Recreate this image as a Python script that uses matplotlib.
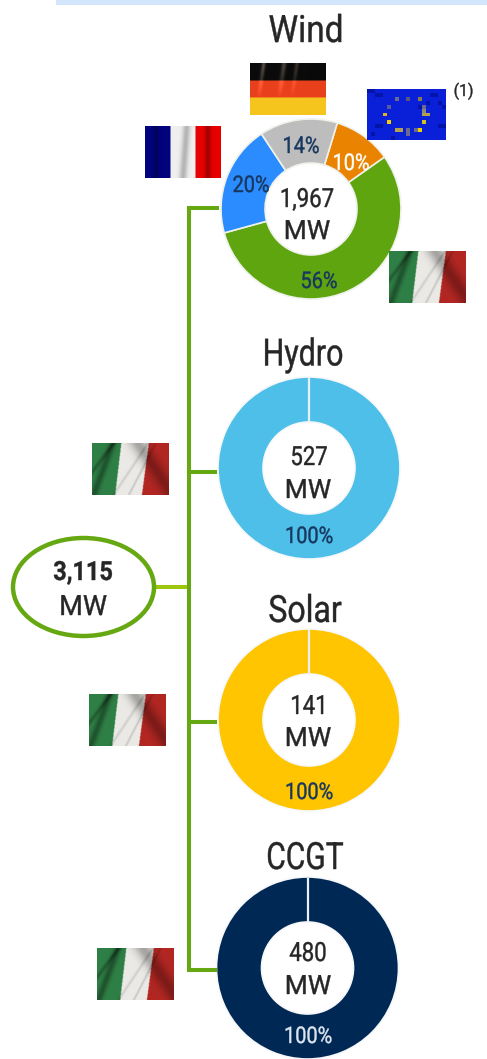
import matplotlib
matplotlib.use("Agg")
import matplotlib.pyplot as plt
from matplotlib.patches import Rectangle, Ellipse
from matplotlib.patheffects import AbstractPathEffect
from matplotlib.transforms import Affine2D
import numpy as np

plt.rcParams['font.family'] = ['Roboto', 'DejaVu Sans']

W, H = 487, 1059
wind_labels = ["10%", "56%", "20%", "14%"]
wind_values = [10.5, 55.5, 20, 14]
wind_colors = ["#E98300", "#5FA510", "#2B8CFF", "#BDBDBD"]
wind_text = ["#FFFFFF", "#17375E", "#17375E", "#17375E"]
single_values = [100]
titles = ["Wind", "Hydro", "Solar", "CCGT"]
capacity = ["1,967", "527", "141", "480"]
total = "3,115"
single_colors = ["#4DBFE9", "#FFC500", "#002855"]
single_text = ["#17375E", "#17375E", "#DDE6F0"]

fig = plt.figure(figsize=(W/100, H/100), dpi=100)
ax = fig.add_axes([0, 0, 1, 1])
DARK = "#262626"
GREEN = "#66A812"


class Condense(AbstractPathEffect):
    """Narrow the glyphs about a vertical axis (no condensed font is installed)."""
    def __init__(self, cx, k, bold=0.3):
        super().__init__()
        self.cx, self.k, self.bold = cx, k, bold

    def draw_path(self, renderer, gc, tpath, affine, rgbFace=None):
        t = affine + Affine2D().translate(-self.cx, 0).scale(self.k, 1).translate(self.cx, 0)
        g = renderer.new_gc()
        g.copy_properties(gc)
        g.set_linewidth(self.bold)
        g.set_foreground(rgbFace)
        renderer.draw_path(g, tpath, t, rgbFace)
        g.restore()


def pie(vals, cols, cx, cy, r, start, edge):
    ax.pie(vals, colors=cols, center=(cx, cy), radius=r, startangle=start, counterclock=True,
           wedgeprops=dict(width=r-46, edgecolor=edge, linewidth=1.2), frame=True)


# counterclockwise on an inverted axis reads clockwise
pie(wind_values, wind_colors, 311, 209, 90, -73, "#EEF2EA")
centers = [(309, 468), (309, 720), (307.5, 968)]
for (cx, cy), c in zip(centers, single_colors):
    pie(single_values, [c], cx, cy, 91, -90, "#F6F8FA")
    ax.plot([cx, cx], [cy-90.5, cy-46], color="#E8F0F5", lw=1.6, zorder=5, solid_capstyle="butt")

ax.add_patch(Rectangle((56, 0), W-56, 5, color="#D3E6FB", lw=0))

# connectors
ax.plot([217, 188.5, 188.5, 215], [208, 208, 970, 970], color=GREEN, lw=2.9, solid_joinstyle="miter", zorder=1)
for y in (472, 722):
    ax.plot([188.5, 217], [y, y], color=GREEN, lw=2.9, zorder=1, solid_capstyle="butt")
ax.plot([156, 187], [587, 587], color="#9CC60B", lw=2.9, zorder=1, solid_capstyle="butt")
ax.add_patch(Ellipse((83.5, 587), 141, 98, fc="white", ec=GREEN, lw=3.2, zorder=2))


def T(x, y, s, size, k, color=DARK, **kw):
    ax.text(x, y, s, fontsize=size, color=color, ha="center", va="baseline", zorder=6,
            path_effects=[Condense(x, k)], **kw)


for (x, y), s, k in zip([(306, 42), (303, 365.5), (305, 622), (305, 869)], titles, [.89, .81, .855, .8]):
    T(x, y, s, 27, k)
for (x, y), s in zip([(307, 207), (309, 465), (309, 714), (308, 961)], capacity):
    T(x, y, s, 19, .84)
for x, y in [(307, 239), (308, 498), (308, 746), (308, 994)]:
    T(x, y, "MW", 19, 1.0)
T(83, 580, total, 19, .89, fontweight="bold")
T(83, 615, "MW", 20, .98)
T(463.5, 96, "(1)", 12, .95)
for (x, y), s, c in zip([(351, 170), (319, 288), (251, 192), (301, 153)], wind_labels, wind_text):
    T(x, y, s, 16.5, .87, c)
for (x, y), c in zip([(309, 543), (309, 799), (308, 1043)], single_text):
    T(x, y, "100%", 16.5, .87, c)


# ---- flags (decoration, not data) ----
def show(img, x0, y0, w, h, interp="bilinear"):
    ax.imshow(img, extent=(x0, x0+w, y0+h, y0), interpolation=interp, zorder=3, aspect="auto")


def rgb(c):
    return np.array(matplotlib.colors.to_rgb(c))


def grid(w, h):
    return np.meshgrid(np.linspace(0, 1, w), np.linspace(0, 1, h))


def italy(x0, y0, w=77, h=52):
    X, Y = grid(w*2, h*2)
    b1 = .38 - .08*Y
    b2 = .74 - .09*Y
    img = np.where((X < b1)[..., None], rgb("#2F8046"),
                   np.where((X < b2)[..., None], rgb("#ECEAE6"), rgb("#B32723")))
    fold = 1 - .35*np.exp(-((X - .25*(1-Y) - .02)/.05)**2) - .28*np.exp(-((X + .5*Y - .28)/.03)**2)*(X < b1)
    fold -= .30*np.exp(-((X - 1.05 + .45*(1-Y))/.12)**2)
    fold -= .16*np.exp(-((X + .35*Y - .83)/.015)**2)
    fold -= .12*np.exp(-((X + .45*Y - .73)/.02)**2)
    show(np.clip(img*fold[..., None], 0, 1), x0, y0, w, h)


for x, y in [(389, 251), (92, 443), (89, 694), (97, 948)]:
    italy(x, y)

# France
X, Y = grid(152, 104)
img = np.where((X < 1/3)[..., None], rgb("#00037F"),
               np.where((X < 2/3)[..., None], rgb("#F0F0F0"), rgb("#E80000")))
sh = 1 - .25*np.exp(-((X-.14)/.04)**2) - .25*np.exp(-((X-.55+.05*Y)/.05)**2) - .3*np.exp(-((X-.83)/.04)**2)
show(np.clip(img*sh[..., None], 0, 1), 145, 126, 76, 52)

# Germany
X, Y = grid(152, 104)
img = np.where((Y < 1/3)[..., None], rgb("#0A0A0A"),
               np.where((Y < 2/3)[..., None], rgb("#E8401C"), rgb("#F6C61E")))
add = .30*np.exp(-((X-.18+.1*Y)/.025)**2) + .25*np.exp(-((X-.45+.1*Y)/.03)**2) + .18*np.exp(-((X-.62+.1*Y)/.025)**2)
add = add*np.clip(1.1 - 1.6*Y, 0, 1)
show(np.clip(img + add[..., None]*np.array([1, .9, .8]), 0, 1), 250, 63, 76, 52)

# EU, pixelated
eu = np.tile(rgb("#0A1FD8"), (13, 20, 1))
for col, row in [(0,0),(1,0),(2,1),(3,1),(15,3),(18,9),(19,9),(1,11),(6,12),(16,1),(17,1),(13,4),(2,9),(3,9),(18,3),(19,4)]:
    eu[row, col] = rgb("#0414A8")
for col, row, c in [(7,2,"#6A6A90"),(10,2,"#5A5A80"),(13,2,"#8A7A50"),(5,4,"#5A5AA0"),(14,4,"#6A6A90"),
                    (14,5,"#8A8A80"),(4,6,"#E0B020"),(14,6,"#B0A050"),(15,6,"#B0A050"),(5,8,"#F0D000"),
                    (14,8,"#D0C020"),(7,10,"#B0A050"),(8,10,"#B0A050"),(10,10,"#6A6A90"),(10,11,"#6A6A90"),
                    (13,10,"#F0D000"),(12,10,"#6A6A90")]:
    eu[row, col] = rgb(c)
show(eu, 367, 89, 79, 51, "nearest")

ax.set_xlim(0, W); ax.set_ylim(H, 0); ax.axis("off"); ax.set_aspect("auto")
fig.savefig("out.png", dpi=100)
